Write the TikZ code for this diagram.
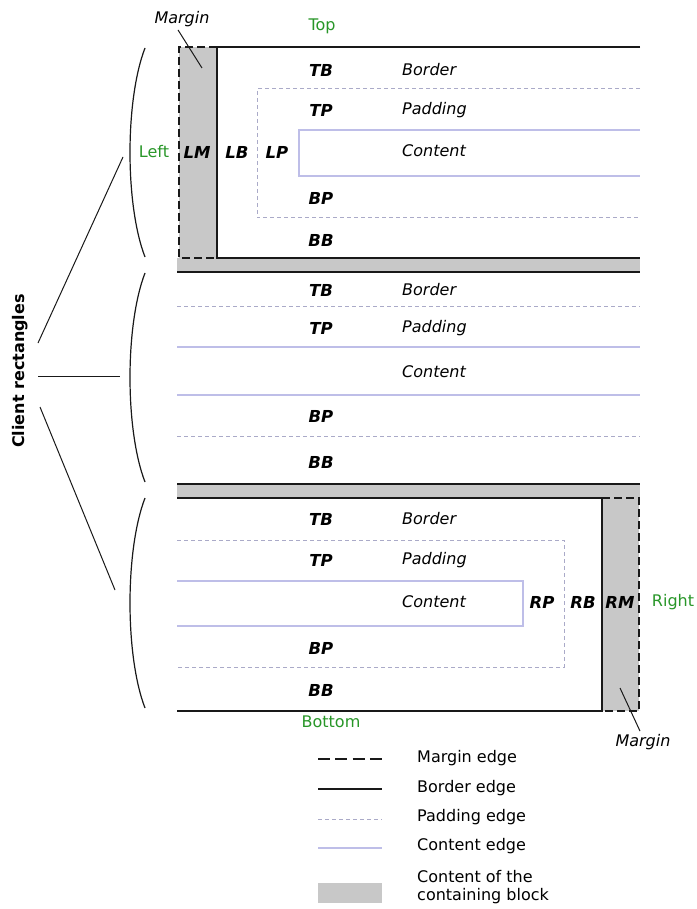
\documentclass[tikz,border=0pt]{standalone}
\usepackage{fontspec}
\setmainfont{DejaVu Sans}
\definecolor{padcol}{RGB}{170,170,200}
\definecolor{concol}{RGB}{190,190,232}
\definecolor{cbgray}{RGB}{200,200,200}
\definecolor{sidegreen}{RGB}{40,150,40}
\definecolor{ink}{RGB}{25,25,25}
\begin{document}
\begin{tikzpicture}[x=1pt,y=-1pt,
  marginedge/.style={line width=1.8pt, dash pattern=on 8pt off 4pt, ink},
  borderedge/.style={line width=2pt, ink},
  paddingedge/.style={line width=1pt, dash pattern=on 4pt off 3pt, padcol},
  contentedge/.style={line width=1.2pt, concol},
  cblock/.style={fill=cbgray, draw=none},
  lbl/.style={font=\fontsize{16.5}{19}\selectfont\bfseries\itshape, inner sep=0pt},
  area/.style={font=\fontsize{16}{19}\selectfont\itshape, anchor=west, inner sep=0pt},
  side/.style={font=\fontsize{16}{19}\selectfont, text=sidegreen, inner sep=0pt},
  legtext/.style={font=\fontsize{16}{19}\selectfont, anchor=west, inner sep=0pt, align=left},
  leader/.style={line width=1pt, ink},
  bracket/.style={line width=1.2pt, ink}
]
\useasboundingbox (0,0) rectangle (696,909);

% ---------- containing block content (gray) ----------
\fill[cblock] (179,47) rectangle (217,258);
\fill[cblock] (177,258) rectangle (640,272);
\fill[cblock] (177,484) rectangle (640,498);
\fill[cblock] (602,498) rectangle (639,711);

% ---------- first client rectangle ----------
\draw[marginedge] (217,47) -- (179,47) -- (179,258) -- (217,258);
\draw[borderedge] (640,47) -- (217,47) -- (217,258) -- (640,258);
\draw[paddingedge] (640,89) -- (257,89) -- (257,218) -- (640,218);
\draw[contentedge] (640,130) -- (299,130) -- (299,176) -- (640,176);

% ---------- second client rectangle ----------
\draw[borderedge] (177,272) -- (640,272);
\draw[paddingedge] (177,306) -- (640,306);
\draw[contentedge] (177,347) -- (640,347);
\draw[contentedge] (177,395) -- (640,395);
\draw[paddingedge] (177,436) -- (640,436);
\draw[borderedge] (177,484) -- (640,484);

% ---------- third client rectangle ----------
\draw[borderedge] (177,498) -- (602,498) -- (602,711) -- (177,711);
\draw[marginedge] (602,498) -- (639,498) -- (639,711) -- (602,711);
\draw[paddingedge] (177,540) -- (564,540) -- (564,667) -- (177,667);
\draw[contentedge] (177,581) -- (523,581) -- (523,626) -- (177,626);

% ---------- labels, first rectangle ----------
\node[side] (top) at (322,26) {Top};
\node[side] (left) at (154,152) {Left};
\node[lbl] (lm1) at (197,152) {LM};
\node[lbl] (lb1) at (237,152) {LB};
\node[lbl] (lp1) at (277,152) {LP};
\node[lbl] (tb1) at (321,70) {TB};
\node[lbl] (tp1) at (321,110) {TP};
\node[lbl] (bp1) at (321,198) {BP};
\node[lbl] (bb1) at (321,240) {BB};
\node[area] (border1) at (402,70) {Border};
\node[area] (padding1) at (402,110) {Padding};
\node[area] (content1) at (402,151) {Content};
\node[font=\fontsize{16}{19}\selectfont\itshape, inner sep=1pt] (marginA) at (182,19) {Margin};
\coordinate (marginAtip) at (202,68);
\draw[leader] (marginA.south) ++(-4,2) coordinate (marginAfoot) -- (marginAtip);

% ---------- labels, second rectangle ----------
\node[lbl] (tb2) at (321,290) {TB};
\node[lbl] (tp2) at (321,328) {TP};
\node[lbl] (bp2) at (321,416) {BP};
\node[lbl] (bb2) at (321,462) {BB};
\node[area] (border2) at (402,290) {Border};
\node[area] (padding2) at (402,328) {Padding};
\node[area] (content2) at (402,372) {Content};

% ---------- labels, third rectangle ----------
\node[lbl] (tb3) at (321,519) {TB};
\node[lbl] (tp3) at (321,560) {TP};
\node[lbl] (bp3) at (321,648) {BP};
\node[lbl] (bb3) at (321,690) {BB};
\node[area] (border3) at (402,519) {Border};
\node[area] (padding3) at (402,560) {Padding};
\node[area] (content3) at (402,602) {Content};
\node[lbl] (rp3) at (542,602) {RP};
\node[lbl] (rb3) at (583,602) {RB};
\node[lbl] (rm3) at (620,602) {RM};
\node[side] (right) at (673,602) {Right};
\node[side] (bottom) at (331,722) {Bottom};
\node[font=\fontsize{16}{19}\selectfont\itshape, inner sep=1pt] (marginB) at (643,742) {Margin};
\coordinate (marginBtip) at (620,688);
\draw[leader] (marginB.north) ++(-3,-2) coordinate (marginBfoot) -- (marginBtip);

% ---------- brackets grouping the client rectangles ----------
\coordinate (br1a) at (145,48);  \coordinate (br1b) at (145,257);
\coordinate (br2a) at (145,273); \coordinate (br2b) at (145,482);
\coordinate (br3a) at (145,498); \coordinate (br3b) at (145,708);
\draw[bracket] (br1a) .. controls (125,100) and (125,205) .. (br1b);
\draw[bracket] (br2a) .. controls (125,325) and (125,430) .. (br2b);
\draw[bracket] (br3a) .. controls (125,550) and (125,656) .. (br3b);

\node[font=\fontsize{16}{19}\selectfont\bfseries, rotate=90, inner sep=0pt] (client) at (20,371) {Client rectangles};
\coordinate (cr1) at (38,343);  \coordinate (tip1) at (123,157);
\coordinate (cr2) at (38,376);  \coordinate (tip2) at (120,376);
\coordinate (cr3) at (40,407);  \coordinate (tip3) at (115,590);
\draw[leader] (cr1) -- (tip1);
\draw[leader] (cr2) -- (tip2);
\draw[leader] (cr3) -- (tip3);

% ---------- legend ----------
\coordinate (lg1a) at (318,759); \coordinate (lg1b) at (382,759);
\coordinate (lg2a) at (318,789); \coordinate (lg2b) at (382,789);
\coordinate (lg3a) at (318,819); \coordinate (lg3b) at (382,819);
\coordinate (lg4a) at (318,848); \coordinate (lg4b) at (382,848);
\draw[line width=1.8pt, dash pattern=on 12pt off 5.3pt, ink] (lg1a) -- (lg1b);
\draw[borderedge] (lg2a) -- (lg2b);
\draw[paddingedge] (lg3a) -- (lg3b);
\draw[contentedge] (lg4a) -- (lg4b);
\fill[cblock] (318,883) rectangle (382,903);
\node[legtext] (lgm) at (417,758) {Margin edge};
\node[legtext] (lgb) at (417,788) {Border edge};
\node[legtext] (lgp) at (417,817) {Padding edge};
\node[legtext] (lgc) at (417,846) {Content edge};
\node[legtext] (lgk) at (417,887) {Content of the\\[-1pt]containing block};
\end{tikzpicture}
\end{document}
